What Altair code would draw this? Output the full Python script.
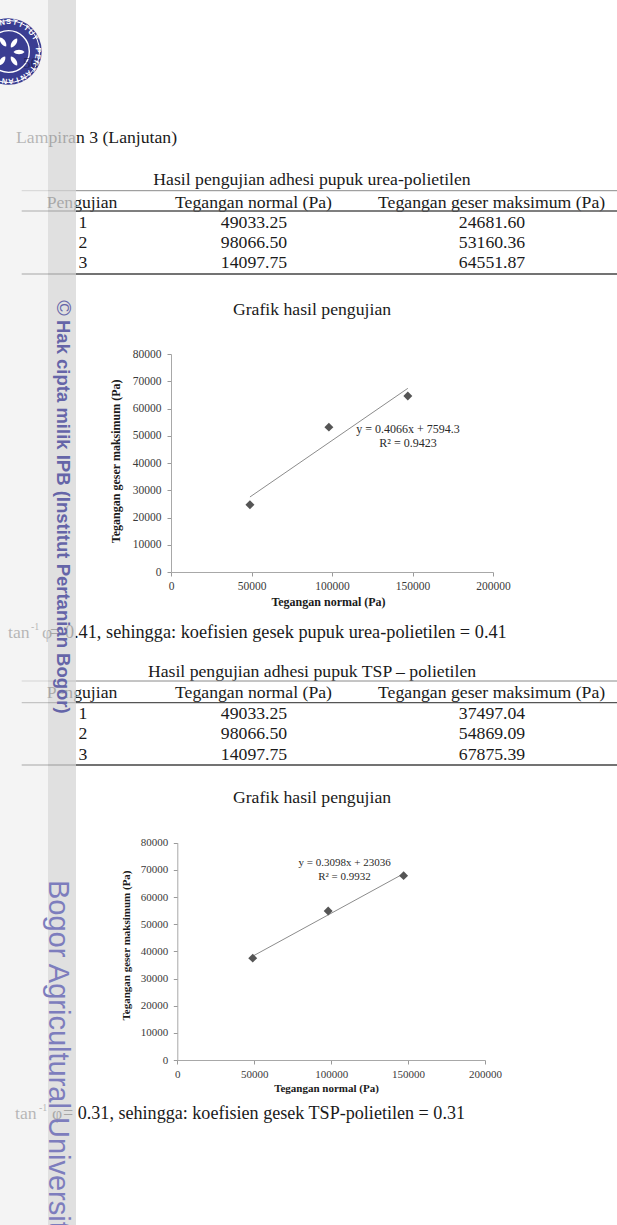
import math
import altair as alt
import pandas as pd

W, H = 617, 1225

# ---------------- data ----------------
test_ids = ["1", "2", "3"]
header = ["Pengujian", "Tegangan normal (Pa)", "Tegangan geser maksimum (Pa)"]

urea_normal_text = ["49033.25", "98066.50", "14097.75"]
urea_shear_text = ["24681.60", "53160.36", "64551.87"]
tsp_normal_text = ["49033.25", "98066.50", "14097.75"]
tsp_shear_text = ["37497.04", "54869.09", "67875.39"]

normal_stress = [49033.25, 98066.50, 147099.75]
urea_shear = [24681.60, 53160.36, 64551.87]
tsp_shear = [37497.04, 54869.09, 67875.39]

x_ticks = [0, 50000, 100000, 150000, 200000]
y_ticks = [0, 10000, 20000, 30000, 40000, 50000, 60000, 70000, 80000]

urea_eq = ["y = 0.4066x + 7594.3", "R\u00b2 = 0.9423"]
tsp_eq = ["y = 0.3098x + 23036", "R\u00b2 = 0.9932"]

SERIF = "Liberation Serif"
SANS = "Liberation Sans"
INK = "#1a1a1a"
BODY = 17.7


# ---------------- helpers ----------------
def txt(s, x, y, size=BODY, align="left", font=SERIF, weight="normal",
        color=INK, angle=0, opacity=1.0):
    kw = dict(font=font, fontSize=size, align=align, baseline="middle",
              fontWeight=weight, color=color)
    if angle:
        kw["angle"] = angle
    if opacity != 1.0:
        kw["opacity"] = opacity
    return (alt.Chart(alt.Data(values=[{"t": s}]))
            .mark_text(**kw)
            .encode(x=alt.value(x), y=alt.value(y), text="t:N"))


def hline(y, x1, x2, color, w):
    return (alt.Chart(alt.Data(values=[{"k": 0}]))
            .mark_rule(color=color, strokeWidth=w)
            .encode(x=alt.value(x1), x2=alt.value(x2), y=alt.value(y)))


def band(x1, x2, color, opacity):
    return (alt.Chart(alt.Data(values=[{"k": 0}]))
            .mark_rect(color=color, opacity=opacity)
            .encode(x=alt.value(x1), x2=alt.value(x2),
                    y=alt.value(0), y2=alt.value(H)))


def table(title, normals, shears, ty, top, hy, under, r0, bottom):
    L = [txt(title, 312, ty, align="center"),
         hline(top, 21.7, W, "#8a8a8a", 1),
         txt(header[0], 82, hy, align="center"),
         txt(header[1], 253.5, hy, align="center"),
         txt(header[2], 491.6, hy, align="center"),
         hline(under, 21.7, W, "#555555", 1.3)]
    for i, (a, b, c) in enumerate(zip(test_ids, normals, shears)):
        y = r0 + i * 20.3
        L += [txt(a, 78.5, y), txt(b, 254, y, align="center"),
              txt(c, 492, y, align="center")]
    L.append(hline(bottom, 21.7, W, "#444444", 1.3))
    return L


def scatter(ys, xr, yr, fs, tfs, xt, yt, ylabpad):
    df = pd.DataFrame({"x": normal_stress, "y": ys})
    x_enc = alt.X("x:Q",
                  scale=alt.Scale(domain=[0, 200000], range=xr, nice=False, zero=False),
                  axis=alt.Axis(orient="bottom", offset=yr[0] - H, values=x_ticks,
                                format="d", grid=False, labelFlush=False,
                                labelOverlap=False, labelFont=SERIF, labelFontSize=fs,
                                labelColor="#3a3a3a", labelPadding=4, tickSize=4,
                                tickColor="#9a9a9a", domainColor="#a8a8a8",
                                title="Tegangan normal (Pa)", titleFont=SERIF,
                                titleFontSize=tfs, titleFontWeight="bold",
                                titleColor=INK, titleX=xt[0], titleY=xt[1] - yr[0],
                                titleBaseline="middle", titleAlign="center"))
    y_enc = alt.Y("y:Q",
                  scale=alt.Scale(domain=[0, 80000], range=yr, nice=False, zero=False),
                  axis=alt.Axis(orient="left", offset=-xr[0], values=y_ticks,
                                format="d", grid=False, labelFlush=False,
                                labelOverlap=False, labelFont=SERIF, labelFontSize=fs,
                                labelColor="#3a3a3a", labelPadding=ylabpad, tickSize=4,
                                tickColor="#9a9a9a", domainColor="#a8a8a8",
                                title="Tegangan geser maksimum (Pa)", titleFont=SERIF,
                                titleFontSize=tfs, titleFontWeight="bold",
                                titleColor=INK, titleX=yt[0] - xr[0], titleY=yt[1],
                                titleAngle=270, titleBaseline="middle",
                                titleAlign="center"))
    base = alt.Chart(df)
    trend = (base.transform_regression("x", "y")
             .mark_line(color="#8c8c8c", strokeWidth=1)
             .encode(x=x_enc, y=y_enc))
    pts = (base.mark_point(shape="diamond", filled=True, size=80,
                           color="#555555", opacity=1)
           .encode(x=x_enc, y=y_enc))
    return alt.layer(trend, pts)


layers = []

# ---- top of page ----
layers.append(txt("Lampiran 3 (Lanjutan)", 16, 138.3))
layers += table("Hasil pengujian adhesi pupuk urea-polietilen",
                urea_normal_text, urea_shear_text,
                180, 190.7, 202.7, 211, 222.7, 274)
layers.append(txt("Grafik hasil pengujian", 312, 310, align="center"))

# ---- chart 1 ----
layers.append(scatter(urea_shear, [171, 493], [572, 354], 11.5, 12,
                      (328, 601.7), (115, 460.8), 6))
layers.append(txt(urea_eq[0], 408, 429, size=12, align="center", color="#2a2a2a"))
layers.append(txt(urea_eq[1], 408, 442.7, size=12, align="center", color="#2a2a2a"))

# ---- middle text ----
layers.append(txt("tan", 8, 632.7))
layers.append(txt("-1", 31, 626.5, size=10))
layers.append(txt("\u03c6", 42, 632.7))
layers.append(txt("= 0.41, sehingga: koefisien gesek pupuk urea-polietilen = 0.41",
                  50, 632.7, size=18.3))
layers += table("Hasil pengujian adhesi pupuk TSP \u2013 polietilen",
                tsp_normal_text, tsp_shear_text,
                671.7, 681, 692.7, 702.7, 714, 765)
layers.append(txt("Grafik hasil pengujian", 312, 798.3, align="center"))

# ---- chart 2 ----
layers.append(scatter(tsp_shear, [177.3, 485], [1060, 842.7], 11, 11,
                      (326, 1088.3), (126, 945), 5.6))
layers.append(txt(tsp_eq[0], 344.6, 863.3, size=11, align="center", color="#2a2a2a"))
layers.append(txt(tsp_eq[1], 344.5, 876.7, size=11, align="center", color="#2a2a2a"))

# ---- bottom text ----
layers.append(txt("tan", 15, 1114))
layers.append(txt("-1", 39, 1108, size=10))
layers.append(txt("\u03c6", 52, 1114))
layers.append(txt("= 0.31, sehingga:  koefisien gesek TSP-polietilen = 0.31",
                  63, 1114, size=18.1))

# ---- repository overlay strips ----
layers.append(band(0, 48, "#f0f0f0", 0.72))
layers.append(band(48, 76, "#d6d6d6", 0.75))

# ---- logo ----
LCX, LCY = 8.5, 51.5
logo_disc = pd.DataFrame({"px": [LCX], "py": [LCY]})
pos = dict(x=alt.X("px:Q", scale=None, axis=None), y=alt.Y("py:Q", scale=None, axis=None))
layers.append(alt.Chart(logo_disc).mark_point(shape="circle", filled=True, opacity=1,
                                              color="#3a3d92", size=math.pi * 37.5 ** 2)
              .encode(**pos))
for rr, sw in [(35, 1), (23.5, 1.4)]:
    layers.append(alt.Chart(logo_disc).mark_point(shape="circle", filled=False, opacity=1,
                                                  color="white", strokeWidth=sw,
                                                  size=math.pi * rr ** 2)
                  .encode(**pos))
ring = "INSTITUT PERTANIAN BOGOR"
ring_rows = []
for i, ch in enumerate(ring):
    if ch == " ":
        continue
    th = -25 + 12.5 * i
    rad = math.radians(th)
    ring_rows.append({"ch": ch, "px": LCX + 29.3 * math.sin(rad),
                      "py": LCY - 29.3 * math.cos(rad), "ang": th % 360})
layers.append(alt.Chart(pd.DataFrame(ring_rows))
              .mark_text(font=SANS, fontSize=7.5, fontWeight="bold", color="white",
                         baseline="middle", align="center")
              .encode(angle=alt.Angle("ang:Q", scale=None), text="ch:N", **pos))
leaf = "M0,-1C0.55,-0.55 0.55,0.55 0,1C-0.55,0.55 -0.55,-0.55 0,-1Z"
leaf_rows = pd.DataFrame({"px": [14, 19, 14, 3, 2], "py": [43, 52, 61, 42, 61],
                          "ang": [35, 90, 145, 325, 215]})
layers.append(alt.Chart(leaf_rows)
              .mark_point(shape=leaf, filled=True, color="white", size=120, opacity=1)
              .encode(angle=alt.Angle("ang:Q", scale=None), **pos))
layers.append(txt("56", 23, 63, size=15, color="#15153a", opacity=0.55))

# ---- vertical watermark texts ----
layers.append(txt("\u00a9", 63, 308, size=21, font=SANS, color="#6565a8", angle=90,
                  align="center"))
layers.append(txt("Hak cipta milik IPB (Institut Pertanian Bogor)", 63, 320, size=18.5,
                  font=SANS, weight="bold", color="#6565a8", angle=90))
layers.append(txt("Bogor Agricultural University", 57.5, 880, size=29,
                  font=SANS, color="#7d7dbd", angle=90))

chart = (alt.layer(*layers)
         .resolve_scale(x="independent", y="independent")
         .resolve_axis(x="independent", y="independent")
         .properties(width=W, height=H, padding=0, background="white",
                     autosize=alt.AutoSizeParams(type="none"))
         .configure_view(stroke=None))

chart.save("out.html", embed_options={"renderer": "svg", "actions": False})
